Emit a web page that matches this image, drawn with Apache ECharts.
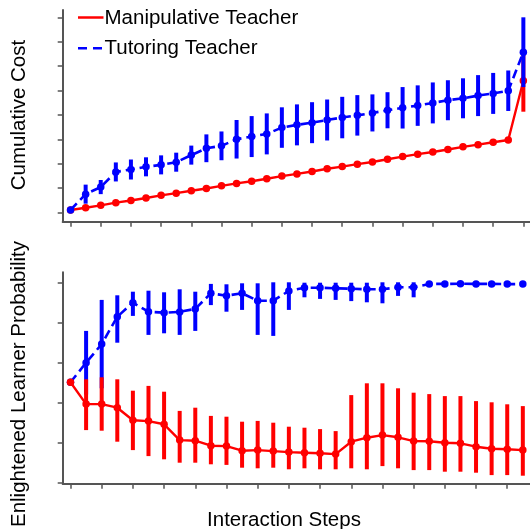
<!DOCTYPE html>
<html>
<head>
<meta charset="utf-8">
<script src="https://cdn.jsdelivr.net/npm/echarts@6/dist/echarts.min.js"></script>
<style>
    html, body { margin: 0; padding: 0; background: #fff; }
    #chart { width: 530px; height: 529px; }
</style>
</head>
<body>
<div id="chart"></div>
<script>
// top panel: cumulative cost (31 steps)
const costManip = [0.10, 0.19, 0.29, 0.40, 0.49, 0.59, 0.70, 0.79, 0.89, 0.98, 1.09, 1.19, 1.28, 1.38, 1.49, 1.58,
    1.68, 1.79, 1.88, 1.98, 2.07, 2.18, 2.29, 2.39, 2.48, 2.58, 2.69, 2.78, 2.88, 2.97, 5.40]
const costManipErr = [0, 0, 0, 0, 0, 0, 0, 0, 0, 0, 0, 0, 0, 0, 0, 0, 0, 0, 0, 0, 0, 0, 0, 0, 0, 0, 0, 0, 0, 0, 1.27]
const costTutor = [0.10, 0.75, 1.04, 1.66, 1.76, 1.87, 1.95, 2.06, 2.35, 2.63, 2.73, 3.00, 3.11, 3.22, 3.48, 3.59,
    3.68, 3.79, 3.89, 3.98, 4.08, 4.19, 4.29, 4.38, 4.49, 4.60, 4.68, 4.79, 4.88, 4.99, 6.57]
const costTutorErr = [0, 0.39, 0.29, 0.39, 0.41, 0.39, 0.39, 0.39, 0.39, 0.57, 0.59, 0.79, 0.84, 0.84, 0.83, 0.84,
    0.84, 0.84, 0.85, 0.83, 0.76, 0.74, 0.85, 0.83, 0.84, 0.82, 0.82, 0.84, 0.84, 0.83, 1.43]
const costTicks = [0, 1, 2, 3, 4, 5, 6, 7, 8]
const costStepTicks = [0, 2, 4, 6, 8, 10, 12, 14, 16, 18, 20, 22, 24, 26, 28, 30]

// bottom panel: enlightened learner probability (30 steps)
const probManip = [0.500, 0.391, 0.391, 0.373, 0.310, 0.306, 0.290, 0.211, 0.208, 0.183, 0.181, 0.158, 0.161, 0.156, 0.151,
    0.148, 0.145, 0.141, 0.203, 0.223, 0.236, 0.225, 0.206, 0.205, 0.198, 0.195, 0.178, 0.168, 0.165, 0.161]
const probManipLow = [0.500, 0.261, 0.258, 0.203, 0.161, 0.131, 0.115, 0.098, 0.098, 0.090, 0.087, 0.073, 0.070, 0.073, 0.065,
    0.070, 0.065, 0.065, 0.070, 0.065, 0.081, 0.070, 0.061, 0.061, 0.053, 0.053, 0.048, 0.036, 0.036, 0.033]
const probManipHigh = [0.500, 0.515, 0.525, 0.515, 0.458, 0.482, 0.453, 0.357, 0.373, 0.332, 0.328, 0.303, 0.307, 0.298, 0.278,
    0.273, 0.266, 0.256, 0.436, 0.495, 0.495, 0.470, 0.448, 0.441, 0.431, 0.431, 0.406, 0.400, 0.390, 0.381]
const probTutor = [0.500, 0.598, 0.691, 0.828, 0.898, 0.853, 0.848, 0.852, 0.867, 0.945, 0.933, 0.945, 0.908, 0.908, 0.957,
    0.973, 0.973, 0.970, 0.968, 0.965, 0.965, 0.975, 0.975, 0.992, 0.992, 0.993, 0.992, 0.992, 0.991, 0.991]
const probTutorLow = [0.500, 0.439, 0.470, 0.698, 0.832, 0.737, 0.745, 0.737, 0.757, 0.886, 0.853, 0.862, 0.737, 0.732, 0.862,
    0.925, 0.917, 0.912, 0.906, 0.900, 0.895, 0.932, 0.925, 0.992, 0.992, 0.993, 0.992, 0.992, 0.991, 0.991]
const probTutorHigh = [0.500, 0.757, 0.912, 0.935, 0.953, 0.958, 0.950, 0.965, 0.953, 0.992, 0.990, 0.995, 0.995, 1.000, 1.000,
    0.998, 0.998, 0.998, 0.998, 0.998, 1.000, 1.000, 1.000, 0.992, 0.992, 0.993, 0.992, 0.992, 0.991, 0.991]
const probTicks = [0, 0.2, 0.4, 0.6, 0.8, 1.0]
const probStepTicks = [0, 2, 4, 6, 8, 10, 12, 14, 16, 18, 20, 22, 24, 26, 28]

const RED = '#FF0000'
const BLUE = '#0000FF'
const AXIS = '#555555'
const FONT = '20.5px "Liberation Sans", Arial, sans-serif'

const points = arr => arr.map((v, i) => [i, v])
const bars = (lo, hi) => lo.map((v, i) => [i, v, hi[i]])

// vertical error bar drawn through the axis scales
const errorBar = color => (params, api) => {
    const lo = api.value(1), hi = api.value(2)
    if (lo === hi) return
    const a = api.coord([api.value(0), lo])
    const b = api.coord([api.value(0), hi])
    return {
        type: 'line',
        shape: { x1: a[0], y1: a[1], x2: b[0], y2: b[1] },
        style: { stroke: color, lineWidth: 4 }
    }
}

const axisBase = (ticks) => ({
    type: 'value',
    axisLine: { show: true, onZero: false, lineStyle: { color: AXIS, width: 2 } },
    axisTick: { show: true, length: 5, customValues: ticks, lineStyle: { color: AXIS, width: 1.5 } },
    axisLabel: { show: false },
    splitLine: { show: false }
})

const lineSeries = (name, data, color, dashed, xi, z) => ({
    name: name,
    type: 'line',
    xAxisIndex: xi,
    yAxisIndex: xi,
    data: data,
    symbol: 'circle',
    symbolSize: 7.5,
    itemStyle: { color: color },
    lineStyle: { color: color, width: dashed ? 2.6 : 2.4, type: dashed ? [9, 5] : 'solid' },
    z: z
})

const errSeries = (data, color, xi, z) => ({
    type: 'custom',
    xAxisIndex: xi,
    yAxisIndex: xi,
    data: data,
    renderItem: errorBar(color),
    encode: { x: 0, y: [1, 2] },
    z: z
})

const myChart = echarts.init(document.getElementById('chart'), null, { renderer: 'canvas' })
const option = {
    animation: false,
    grid: [
        { left: 62.7, top: 10, right: 0, height: 211.7 },
        { left: 62.7, top: 272.3, right: 0, height: 211.5 }
    ],
    xAxis: [
        Object.assign(axisBase(costStepTicks), { gridIndex: 0, min: -0.52, max: 30.44 }),
        Object.assign(axisBase(probStepTicks), { gridIndex: 1, min: -0.5, max: 29.46 })
    ],
    yAxis: [
        Object.assign(axisBase(costTicks), { gridIndex: 0, min: -0.38, max: 8.3 }),
        Object.assign(axisBase(probTicks), { gridIndex: 1, min: -0.0075, max: 1.05 })
    ],
    series: [
        // top: tutoring drawn over manipulative
        errSeries(bars(costManip.map((v, i) => v - costManipErr[i]), costManip.map((v, i) => v + costManipErr[i])), RED, 0, 2),
        lineSeries('Manipulative Teacher', points(costManip), RED, false, 0, 3),
        errSeries(bars(costTutor.map((v, i) => v - costTutorErr[i]), costTutor.map((v, i) => v + costTutorErr[i])), BLUE, 0, 4),
        lineSeries('Tutoring Teacher', points(costTutor), BLUE, true, 0, 5),
        // bottom: manipulative drawn over tutoring
        errSeries(bars(probTutorLow, probTutorHigh), BLUE, 1, 2),
        lineSeries('Tutoring Teacher', points(probTutor), BLUE, true, 1, 3),
        errSeries(bars(probManipLow, probManipHigh), RED, 1, 4),
        lineSeries('Manipulative Teacher', points(probManip), RED, false, 1, 5)
    ],
    graphic: [
        { type: 'line', shape: { x1: 78, y1: 17.5, x2: 103.5, y2: 17.5 }, style: { stroke: RED, lineWidth: 2.5 } },
        { type: 'line', shape: { x1: 78, y1: 48.3, x2: 103.5, y2: 48.3 }, style: { stroke: BLUE, lineWidth: 2.5, lineDash: [9, 6] } },
        { type: 'text', x: 104.5, y: 18.6, style: { text: 'Manipulative Teacher', font: FONT, fill: '#000', verticalAlign: 'middle' } },
        { type: 'text', x: 104.5, y: 48.6, style: { text: 'Tutoring Teacher', font: FONT, fill: '#000', verticalAlign: 'middle' } },
        { type: 'text', x: 19.6, y: 115, rotation: Math.PI / 2, style: { text: 'Cumulative Cost', font: FONT, fill: '#000', align: 'center', verticalAlign: 'middle' } },
        { type: 'text', x: 19.6, y: 384, rotation: Math.PI / 2, style: { text: 'Enlightened Learner Probability', font: FONT, fill: '#000', align: 'center', verticalAlign: 'middle' } },
        { type: 'text', x: 284, y: 520.3, style: { text: 'Interaction Steps', font: FONT, fill: '#000', align: 'center', verticalAlign: 'middle' } }
    ]
}
myChart.setOption(option)
</script>
</body>
</html>
